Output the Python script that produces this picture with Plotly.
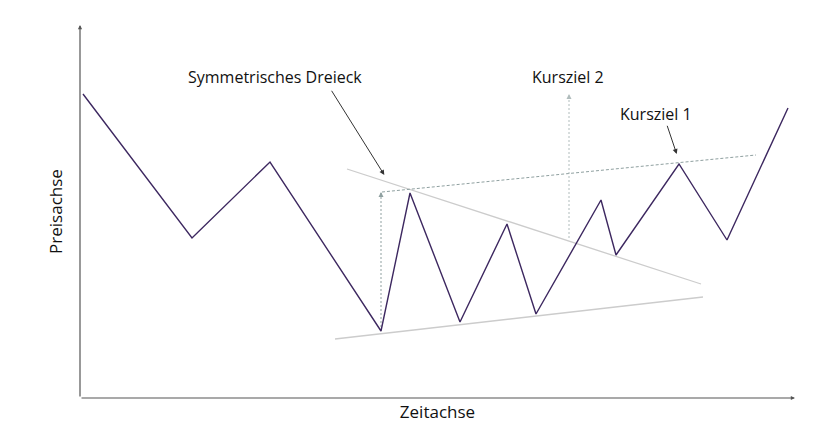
import plotly.graph_objects as go

# Price path (time units, price units)
price_time = [3, 112, 190, 301, 330, 380, 427, 456, 521, 536, 599, 647, 708]
price_vals = [304, 160, 236, 67, 205, 76, 174, 84, 198, 143, 234, 158, 290]

# Triangle boundaries
upper_time = [267, 621]
upper_vals = [229, 114]
lower_time = [255, 623]
lower_vals = [59, 101]

# Target (dashed) line
target_time = [302, 676]
target_vals = [206, 243]

# Vertical projection arrows
proj1_time = [301, 301]
proj1_vals = [67, 206]
proj2_time = [489, 489]
proj2_vals = [160, 304]

# Labels
label_texts = ["Symmetrisches Dreieck", "Kursziel 2", "Kursziel 1"]
label_time = [195, 488, 576]
label_vals = [321, 321, 284]
# pointer arrows for labels: (tail_time, tail_val, head_time, head_val)
pointer_sym = (250.7, 308.7, 304.3, 223)
pointer_k1 = (586.7, 273.7, 596.7, 244)

PURPLE = "#3d2860"
LIGHT = "#cccccc"
DASH = "#8fa0a0"
AXIS = "#555555"
FONT = "Open Sans"

fig = go.Figure()
fig.add_trace(go.Scatter(x=upper_time, y=upper_vals, mode="lines",
                         line=dict(color=LIGHT, width=1.3), hoverinfo="skip"))
fig.add_trace(go.Scatter(x=lower_time, y=lower_vals, mode="lines",
                         line=dict(color=LIGHT, width=1.3), hoverinfo="skip"))
fig.add_trace(go.Scatter(x=target_time, y=target_vals, mode="lines",
                         line=dict(color=DASH, width=1, dash="3px,2px"), hoverinfo="skip"))
fig.add_trace(go.Scatter(x=proj1_time, y=proj1_vals, mode="lines",
                         line=dict(color=DASH, width=1, dash="2px,2px"), hoverinfo="skip"))
fig.add_trace(go.Scatter(x=proj2_time, y=proj2_vals, mode="lines",
                         line=dict(color="#b0bcbc", width=1, dash="2px,2px"), hoverinfo="skip"))
fig.add_trace(go.Scatter(x=price_time, y=price_vals, mode="lines",
                         line=dict(color=PURPLE, width=1.4), hoverinfo="skip"))

annotations = []
for t, x, y in zip(label_texts, label_time, label_vals):
    annotations.append(dict(x=x, y=y, text=t, showarrow=False,
                            font=dict(family=FONT, size=16, color="#111111"),
                            xanchor="center", yanchor="middle"))
for tx, ty, hx, hy in [pointer_sym, pointer_k1]:
    annotations.append(dict(x=hx, y=hy, ax=tx, ay=ty, axref="x", ayref="y",
                            text="", showarrow=True, arrowhead=2, arrowsize=1,
                            arrowwidth=1, arrowcolor="#333333"))
# arrowheads on projection lines
for xs, ys, col in [(proj1_time, proj1_vals, DASH), (proj2_time, proj2_vals, "#b0bcbc")]:
    annotations.append(dict(x=xs[1], y=ys[1], ax=xs[1], ay=ys[1] - 4, axref="x", ayref="y",
                            text="", showarrow=True, arrowhead=2, arrowsize=1,
                            arrowwidth=1, arrowcolor=col))
# axis arrows
annotations.append(dict(x=0, y=1, xref="paper", yref="paper", ax=0, ay=373,
                        text="", showarrow=True, arrowhead=2, arrowsize=0.7,
                        arrowwidth=1.2, arrowcolor=AXIS))
annotations.append(dict(x=1, y=0, xref="paper", yref="paper", ax=-715, ay=0,
                        text="", showarrow=True, arrowhead=2, arrowsize=0.7,
                        arrowwidth=1.2, arrowcolor=AXIS))

fig.update_layout(
    width=832, height=438,
    margin=dict(l=72, r=45, t=17, b=48),
    paper_bgcolor="white", plot_bgcolor="white",
    showlegend=False,
    annotations=annotations,
    xaxis=dict(range=[0, 715], showgrid=False, zeroline=False, showticklabels=False,
               ticks="", showline=False,
               title=dict(text="Zeitachse", font=dict(family=FONT, size=17, color="#111111"),
                          standoff=8)),
    yaxis=dict(range=[0, 373], showgrid=False, zeroline=False, showticklabels=False,
               ticks="", showline=False,
               title=dict(text="Preisachse", font=dict(family=FONT, size=17, color="#111111"),
                          standoff=12)),
)

fig.write_html("out.html")
